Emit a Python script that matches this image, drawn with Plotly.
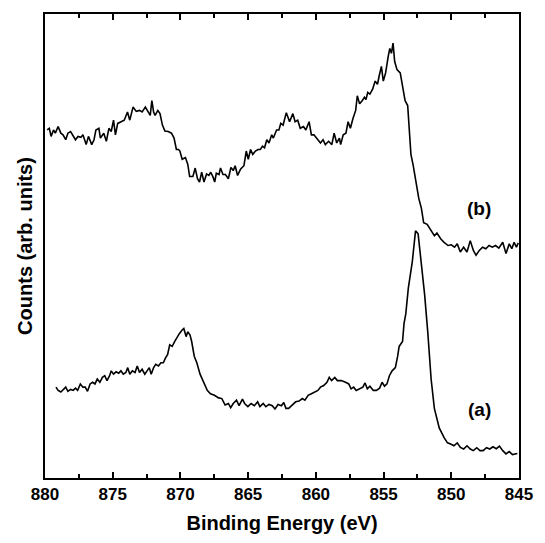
import plotly.graph_objects as go

# Curve (b): binding energy (eV) and counts (arb. units)
energy_b = [879.84, 879.68, 879.55, 879.37, 879.24, 879.03, 878.83, 878.67, 878.47, 878.31,
            878.11, 877.92, 877.75, 877.56, 877.35, 877.20, 876.96, 876.79, 876.55, 876.38,
            876.24, 876.02, 875.91, 875.66, 875.47, 875.28, 875.11, 874.94, 874.80, 874.63,
            874.39, 874.15, 873.91, 873.74, 873.50, 873.26, 873.02, 872.83, 872.59, 872.39,
            872.23, 872.11, 871.98, 871.87, 871.67, 871.51, 871.33, 871.15, 870.90, 870.66,
            870.47, 870.30, 870.14, 870.04, 869.87, 869.63, 869.46, 869.32, 869.08, 868.91,
            868.74, 868.59, 868.43, 868.26, 868.07, 867.90, 867.76, 867.59, 867.47, 867.35,
            867.15, 867.04, 866.86, 866.68, 866.46, 866.27, 866.10, 865.96, 865.78, 865.55,
            865.31, 865.14, 864.99, 864.82, 864.66, 864.46, 864.27, 864.10, 863.94, 863.79,
            863.62, 863.46, 863.26, 863.14, 862.90, 862.73, 862.59, 862.42, 862.18, 861.94,
            861.70, 861.53, 861.34, 861.15, 860.91, 860.74, 860.50, 860.33, 860.14, 859.85,
            859.66, 859.47, 859.30, 859.06, 858.82, 858.65, 858.46, 858.26, 858.17, 857.98,
            857.78, 857.62, 857.45, 857.26, 857.06, 856.94, 856.77, 856.58, 856.41, 856.30,
            856.17, 856.01, 855.81, 855.62, 855.45, 855.33, 855.16, 855.02, 854.85, 854.66,
            854.54, 854.42, 854.30, 854.18, 854.01, 853.77, 853.60, 853.41, 853.22, 853.12,
            852.98, 852.81, 852.57, 852.40, 852.21, 852.04, 851.78, 851.54, 851.25, 851.06,
            850.77, 850.53, 850.24, 850.00, 849.76, 849.56, 849.33, 849.09, 848.84, 848.60,
            848.37, 848.17, 847.93, 847.69, 847.45, 847.21, 846.97, 846.73, 846.49, 846.20,
            845.96, 845.72, 845.53, 845.36, 845.19, 845.05]
counts_b = [356.3, 358, 349.7, 356.3, 353, 359.7, 353, 351.3, 346.3, 353,
            354.7, 349.7, 346.3, 349.7, 348.7, 351.3, 341.3, 349.7, 341.3, 346.3,
            356.3, 358, 348, 353, 344.7, 358, 354.7, 366.3, 351.3, 363,
            364.7, 366.3, 374.7, 366.3, 379.7, 375.3, 376.3, 374.7, 379.7, 374.7,
            371.3, 386.3, 374.7, 371.3, 376.3, 373, 361.3, 355.3, 354.7, 353,
            348, 336.3, 336.3, 334.7, 326.3, 328, 321.3, 308.7, 308.7, 317.3,
            306.3, 303, 313, 303, 311.3, 309.7, 313, 308, 303, 312,
            310.7, 317.3, 310.7, 310.7, 306.3, 318, 314.7, 319.7, 309.7, 316.3,
            319.7, 334.7, 326.3, 336.3, 331.3, 334.7, 336.3, 336.3, 339.7, 338,
            346.3, 343, 351.3, 348, 356.3, 356.3, 363, 361.3, 374, 364.7,
            373, 364.7, 366.3, 358, 359.7, 356.3, 364.7, 351.3, 351.3, 346.3,
            343, 346.3, 341.3, 344.7, 341.3, 353, 343, 348, 341.3, 351.3,
            353, 364.7, 358, 368, 376.3, 391.3, 383, 386.3, 389.7, 387.3,
            394.7, 393, 398, 406.3, 403, 411.3, 421.3, 406.3, 414.7, 431.3,
            439.7, 434.7, 445.3, 426.3, 418, 414.7, 399.7, 386.3, 381.3, 358,
            331.3, 319.7, 301.3, 286.3, 276.3, 261.3, 259.7, 254.7, 248, 250.7,
            244.7, 241.3, 238, 238.7, 236.3, 239.7, 231.3, 236.3, 231.3, 243,
            233, 228, 233, 236.3, 234.7, 238, 236.3, 238, 235.3, 241.3,
            229.7, 239.7, 234.7, 241.3, 236.3, 240.7]

# Curve (a)
energy_a = [879.19, 879.03, 878.83, 878.64, 878.47, 878.31, 878.11, 877.92, 877.75, 877.59,
            877.39, 877.20, 877.03, 876.86, 876.67, 876.48, 876.31, 876.14, 875.95, 875.76,
            875.59, 875.42, 875.23, 875.11, 874.94, 874.75, 874.56, 874.39, 874.22, 874.03,
            873.89, 873.74, 873.55, 873.35, 873.19, 873.02, 872.83, 872.63, 872.47, 872.30,
            872.16, 871.98, 871.82, 871.62, 871.44, 871.26, 871.10, 870.95, 870.79, 870.61,
            870.43, 870.23, 870.07, 869.89, 869.75, 869.58, 869.46, 869.29, 869.17, 868.98,
            868.79, 868.55, 868.26, 868.02, 867.78, 867.49, 867.18, 866.94, 866.70, 866.46,
            866.29, 866.10, 865.86, 865.67, 865.42, 865.26, 865.02, 864.78, 864.54, 864.30,
            864.13, 863.89, 863.69, 863.46, 863.22, 863.02, 862.79, 862.54, 862.37, 862.21,
            862.01, 861.78, 861.49, 861.24, 861.00, 860.81, 860.57, 860.33, 860.09, 859.85,
            859.66, 859.42, 859.18, 859.01, 858.84, 858.60, 858.41, 858.12, 857.81, 857.57,
            857.40, 857.21, 857.02, 856.77, 856.53, 856.37, 856.20, 856.01, 855.76, 855.53,
            855.29, 855.11, 854.93, 854.75, 854.57, 854.37, 854.13, 853.96, 853.85, 853.60,
            853.49, 853.36, 853.17, 852.88, 852.64, 852.45, 852.21, 851.97, 851.73, 851.49,
            851.25, 850.89, 850.53, 850.28, 850.05, 849.81, 849.56, 849.33, 849.09, 848.84,
            848.60, 848.37, 848.12, 847.88, 847.65, 847.40, 847.16, 846.92, 846.68, 846.44,
            846.20, 845.96, 845.72, 845.48, 845.12]
counts_a = [93, 89.7, 88, 90.7, 93, 88.7, 90.7, 89.7, 92, 89.7,
            96.3, 93, 93, 88.7, 96.3, 98, 96.3, 101.3, 98, 103,
            104.7, 99.7, 104.7, 109.7, 106.3, 108.7, 107.3, 109.7, 106.3, 108,
            113, 106.3, 109.7, 108, 114.7, 108, 111.3, 106.3, 109.7, 113,
            106.3, 113, 116.3, 114.7, 118, 118, 123, 126.3, 136.3, 134.7,
            139.7, 144.7, 148, 151.3, 153, 144.7, 149.7, 146.3, 139.7, 124.7,
            118, 106.3, 98, 89.7, 86.3, 84.7, 82, 81.3, 74.7, 76.3,
            72, 76.3, 79.7, 74, 80.7, 76.3, 73, 76.3, 74, 78,
            73, 76.3, 73, 75.3, 74, 70.7, 75.3, 74, 77.3, 71.3,
            71.3, 74.7, 78, 78.7, 81.3, 79.7, 84.7, 86.3, 88, 89.7,
            93, 94.7, 98, 103, 99.7, 103, 99.7, 99.7, 98, 96.3,
            91.3, 93, 89.7, 91.3, 93, 97.3, 91.3, 94, 89.7, 89.7,
            92, 98, 94, 96.3, 104.7, 109.7, 113, 124.7, 134.7, 139.7,
            158, 168, 194.7, 221.3, 253, 250, 221.3, 188, 148, 101.3,
            71.3, 51.3, 41.3, 36, 34.7, 33, 36, 31.3, 29.7, 33,
            29.7, 28, 31, 28, 28, 31, 29.7, 32, 30, 32.7,
            28, 24.7, 27, 24, 25]

x_range = [880, 845]
y_range = [0, 475]
x_ticks = [880, 875, 870, 865, 860, 855, 850, 845]
labels = ["(a)", "(b)"]

font_family = "Liberation Sans, Arial, sans-serif"

fig = go.Figure()
fig.add_trace(go.Scatter(x=energy_b, y=counts_b, mode="lines",
                         line=dict(color="black", width=1.6), showlegend=False))
fig.add_trace(go.Scatter(x=energy_a, y=counts_a, mode="lines",
                         line=dict(color="black", width=1.6), showlegend=False))

axis_common = dict(showline=True, linecolor="black", linewidth=2, mirror="ticks",
                   showgrid=False, zeroline=False)

fig.update_xaxes(range=x_range, tickvals=x_ticks, ticktext=[str(t) for t in x_ticks],
                 ticks="inside", ticklen=6, tickwidth=2, tickcolor="black",
                 minor=dict(dtick=2.5, ticks="inside", ticklen=4, tickwidth=2, tickcolor="black"),
                 tickfont=dict(family=font_family, size=17, color="black", weight="bold"),
                 title=dict(text="<b>Binding Energy (eV)</b>",
                            font=dict(family=font_family, size=20, color="black"), standoff=13),
                 **axis_common)
fig.update_yaxes(range=y_range, showticklabels=False, ticks="",
                 title=dict(text="<b>Counts (arb. units)</b>",
                            font=dict(family=font_family, size=20, color="black"), standoff=5),
                 **axis_common)

fig.add_annotation(x=0.946, y=0.12, xref="paper", yref="paper", text="<b>" + labels[0] + "</b>",
                   showarrow=False, font=dict(family=font_family, size=19, color="black"))
fig.add_annotation(x=0.946, y=0.581, xref="paper", yref="paper", text="<b>" + labels[1] + "</b>",
                   showarrow=False, font=dict(family=font_family, size=19, color="black"))

fig.update_layout(width=545, height=543, margin=dict(l=45, r=15, t=13, b=55),
                  plot_bgcolor="white", paper_bgcolor="white")

fig.write_html("out.html")
